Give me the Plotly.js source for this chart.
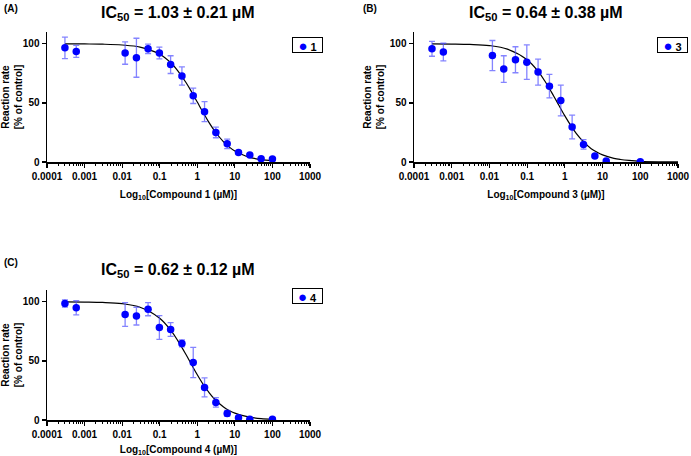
<!DOCTYPE html>
<html>
<head>
<meta charset="utf-8">
<script src="https://cdn.plot.ly/plotly-3.0.1.min.js"></script>
<style>html,body{margin:0;padding:0;background:#fff;}#chart{width:691px;height:456px;}</style>
</head>
<body>
<div id="chart"></div>
<script>
// ---- data ----
const concA = [0.0003, 0.0006, 0.012, 0.024, 0.049, 0.098, 0.195, 0.39, 0.78, 1.56, 3.125, 6.25, 12.5, 25, 50, 100];
const rateA = [96.6, 93.6, 92.2, 88.2, 95.8, 92.2, 82.4, 72.8, 56.0, 42.6, 25.0, 15.4, 8.1, 5.9, 2.8, 2.5];
const errA  = [9.1, 5.0, 9.5, 16.5, 4.0, 5.0, 7.5, 7.7, 6.5, 8.5, 4.5, 4.0, 1.5, 1.0, 0.8, 0.8];

const concB = [0.0003, 0.0006, 0.012, 0.024, 0.049, 0.098, 0.195, 0.39, 0.78, 1.56, 3.125, 6.25, 12.5, 100];
const rateB = [95.8, 93.0, 90.1, 78.6, 86.5, 84.5, 76.1, 64.2, 52.1, 29.6, 14.9, 5.1, 0.8, 0.3];
const errB  = [6.3, 7.5, 12.7, 11.3, 11.0, 14.6, 11.0, 10.0, 13.0, 10.0, 4.0, 1.0, 0.5, 0.3];

const concC = [0.0003, 0.0006, 0.012, 0.024, 0.049, 0.098, 0.195, 0.39, 0.78, 1.56, 3.125, 6.25, 12.5, 25, 100];
const rateC = [98.6, 94.9, 89.3, 87.9, 93.8, 78.3, 76.6, 64.8, 48.7, 27.6, 14.9, 5.6, 2.0, 0.6, 0.6];
const errC  = [3.0, 6.0, 10.0, 7.5, 5.6, 10.0, 5.8, 3.0, 12.8, 8.0, 4.0, 2.5, 0.5, 0.3, 0.3];

// fitted curves
const fitXA = [0.0003, 0.001, 0.003, 0.01, 0.03, 0.1, 0.2, 0.3, 0.5, 0.7, 1, 1.5, 2, 3, 5, 7, 10, 20, 30, 50, 100];
const fitYA = [100, 99.9, 99.7, 99.0, 97.2, 91.2, 83.8, 77.4, 67.3, 59.5, 50.7, 40.7, 34.0, 25.6, 17.1, 12.8, 9.3, 4.9, 3.3, 2.0, 1.0];
const fitXB = [0.0003, 0.001, 0.003, 0.01, 0.03, 0.1, 0.2, 0.3, 0.5, 0.7, 1, 1.5, 2, 3, 5, 7, 10, 20, 30, 50, 100, 300, 1000];
const fitYB = [99.95, 99.8, 99.5, 98.5, 95.5, 86.5, 76.2, 68.1, 56.1, 47.8, 39.0, 29.9, 24.2, 17.6, 11.3, 8.4, 6.0, 3.1, 2.1, 1.3, 0.6, 0.2, 0.1];
const fitXC = [0.0003, 0.001, 0.003, 0.01, 0.03, 0.1, 0.2, 0.3, 0.5, 0.7, 1, 1.5, 2, 3, 5, 7, 10, 20, 30, 50, 100];
const fitYC = [99.95, 99.8, 99.5, 98.4, 95.4, 86.1, 75.6, 67.4, 55.4, 47.0, 38.3, 29.2, 23.7, 17.1, 11.0, 8.1, 5.8, 3.0, 2.0, 1.2, 0.6];

const tickVals = [0.0001, 0.001, 0.01, 0.1, 1, 10, 100, 1000];
const tickText = ['0.0001', '0.001', '0.01', '0.1', '1', '10', '100', '1000'];
const yTickVals = [0, 50, 100];

const panelNames = ['1', '3', '4'];
const panelLabels = ['(A)', '(B)', '(C)'];
const ic50Text = ['1.03 ± 0.21 µM', '0.64 ± 0.38 µM', '0.62 ± 0.12 µM'];

// ---- styling ----
const FONT = 'Arial, "Liberation Sans", sans-serif';
const BLUE = '#0000ff';
const ERRC = 'rgba(80,80,255,0.7)';

function dataTrace(x, y, e, name, xa, ya) {
  return {
    x: x, y: y, name: name, type: 'scatter', mode: 'markers',
    xaxis: xa, yaxis: ya, showlegend: false,
    marker: {color: BLUE, size: 7.5},
    error_y: {type: 'data', array: e, visible: true, color: ERRC, thickness: 1.3, width: 3}
  };
}
function fitTrace(x, y, xa, ya) {
  return {
    x: x, y: y, type: 'scatter', mode: 'lines', showlegend: false,
    xaxis: xa, yaxis: ya,
    line: {color: '#000', width: 1.2, shape: 'spline'}
  };
}

const traces = [
  fitTrace(fitXA, fitYA, 'x', 'y'),
  dataTrace(concA, rateA, errA, panelNames[0], 'x', 'y'),
  fitTrace(fitXB, fitYB, 'x2', 'y2'),
  dataTrace(concB, rateB, errB, panelNames[1], 'x2', 'y2'),
  fitTrace(fitXC, fitYC, 'x3', 'y3'),
  dataTrace(concC, rateC, errC, panelNames[2], 'x3', 'y3')
];

function xAxis(domain, anchor, label) {
  return {
    domain: domain, anchor: anchor, type: 'log', range: [-4, 3],
    tickmode: 'array', tickvals: tickVals, ticktext: tickText,
    ticks: 'outside', ticklen: 4, tickwidth: 1.2, tickcolor: '#000',
    minor: {ticks: 'outside', ticklen: 2, tickwidth: 1, tickcolor: '#000', dtick: 'D1'},
    showline: true, linecolor: '#000', linewidth: 1.5, showgrid: false, zeroline: false,
    tickfont: {family: FONT, size: 10, color: '#000', weight: 700},
    title: {text: 'Log<sub>10</sub>[Compound ' + label + ' (µM)]', standoff: 10,
            font: {family: FONT, size: 10, color: '#000', weight: 700}},
    automargin: false
  };
}
function yAxis(domain, anchor) {
  return {
    domain: domain, anchor: anchor, range: [0, 110],
    tickmode: 'array', tickvals: yTickVals,
    ticks: 'outside', ticklen: 4, tickwidth: 1.2, tickcolor: '#000',
    showline: true, linecolor: '#000', linewidth: 1.5, showgrid: false, zeroline: false,
    tickfont: {family: FONT, size: 10, color: '#000', weight: 700},
    title: {text: 'Reaction rate<br>[% of control]', standoff: 3,
            font: {family: FONT, size: 10, color: '#000', weight: 700}},
    automargin: false
  };
}

const W = 691, H = 456;
const px = v => v / W, py = v => (H - v) / H;

const domXA = [px(47), px(310)], domXB = [px(414), px(678)];
const domYTop = [py(162), py(32)], domYBot = [py(420), py(290)];

const annotations = [];
const titlePos = [[178.5, 13], [546, 13], [178.5, 270]];
const labelPos = [[2, 8], [361, 8], [2, 262]];
const legendPos = [[323, 37], [688, 37], [323, 288]];
for (let i = 0; i < 3; i++) {
  annotations.push({
    xref: 'paper', yref: 'paper', x: px(titlePos[i][0]), y: py(titlePos[i][1]),
    xanchor: 'center', yanchor: 'middle', showarrow: false,
    text: 'IC<sub>50</sub> = ' + ic50Text[i],
    font: {family: FONT, size: 16, color: '#000', weight: 700}
  });
  annotations.push({
    xref: 'paper', yref: 'paper', x: px(labelPos[i][0]), y: py(labelPos[i][1]),
    xanchor: 'left', yanchor: 'middle', showarrow: false,
    text: panelLabels[i],
    font: {family: FONT, size: 10, color: '#000', weight: 700}
  });
  // legend box: marker symbol + series name
  annotations.push({
    xref: 'paper', yref: 'paper', x: px(legendPos[i][0]), y: py(legendPos[i][1]),
    xanchor: 'right', yanchor: 'top', showarrow: false,
    text: '<span style="color:' + BLUE + ';font-size:15px">●</span> ' + panelNames[i],
    font: {family: FONT, size: 11, color: '#000', weight: 700},
    bgcolor: '#fff', bordercolor: '#000', borderwidth: 1, borderpad: 0,
    width: 29, height: 14, align: 'center', valign: 'middle'
  });
}

const layout = {
  width: W, height: H,
  margin: {l: 0, r: 0, t: 0, b: 0},
  paper_bgcolor: '#fff', plot_bgcolor: '#fff',
  showlegend: false,
  xaxis: xAxis(domXA, 'y', '1'),
  yaxis: yAxis(domYTop, 'x'),
  xaxis2: xAxis(domXB, 'y2', '3'),
  yaxis2: yAxis(domYTop, 'x2'),
  xaxis3: xAxis(domXA, 'y3', '4'),
  yaxis3: yAxis(domYBot, 'x3'),
  annotations: annotations
};

Plotly.newPlot('chart', traces, layout, {displayModeBar: false, staticPlot: true});
</script>
</body>
</html>
